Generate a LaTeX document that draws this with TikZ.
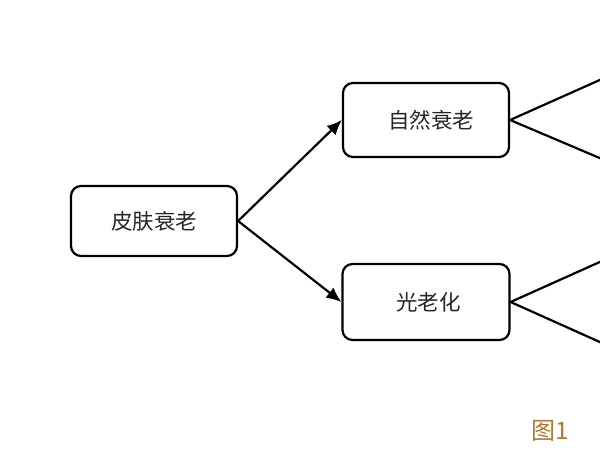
\documentclass[tikz,border=0pt]{standalone}
\usepackage{fontspec}
\newfontfamily\cjk{Noto Sans CJK SC}
\usetikzlibrary{arrows.meta}
\definecolor{figbrown}{HTML}{B07A35}
\tikzset{
  box/.style={draw=black, line width=2.2pt, rounded corners=10pt, fill=white, inner sep=0pt, font=\cjk\fontsize{21.5}{26}\selectfont, text=black!85},
  conn/.style={line width=2.2pt, draw=black},
  arr/.style={conn, -{Latex[length=15pt,width=13pt]}}
}
\begin{document}
\begin{tikzpicture}[x=1pt,y=-1pt]
\useasboundingbox (0,0) rectangle (600,450);
\fill[white] (0,0) rectangle (600,450);
\node[box, minimum width=166pt, minimum height=70pt] (skin) at (154,221) {皮肤衰老};
\node[box, minimum width=166pt, minimum height=74pt] (nat) at (426,120) {\hspace*{10pt}自然衰老};
\node[box, minimum width=167pt, minimum height=76pt] (photo) at (426,302) {\hspace*{5pt}光老化};
\coordinate (n1) at (602,79);
\coordinate (n2) at (602,159);
\coordinate (p1) at (602,261);
\coordinate (p2) at (602,343);
\draw[arr] (skin.east) -- (nat.west);
\draw[arr] (skin.east) -- (photo.west);
\draw[conn] (nat.east) -- (n1);
\draw[conn] (nat.east) -- (n2);
\draw[conn] (photo.east) -- (p1);
\draw[conn] (photo.east) -- (p2);
\node[font=\cjk\fontsize{24}{28}\selectfont, text=figbrown, inner sep=0pt] (fig) at (550,431) {图1};
\end{tikzpicture}
\end{document}
